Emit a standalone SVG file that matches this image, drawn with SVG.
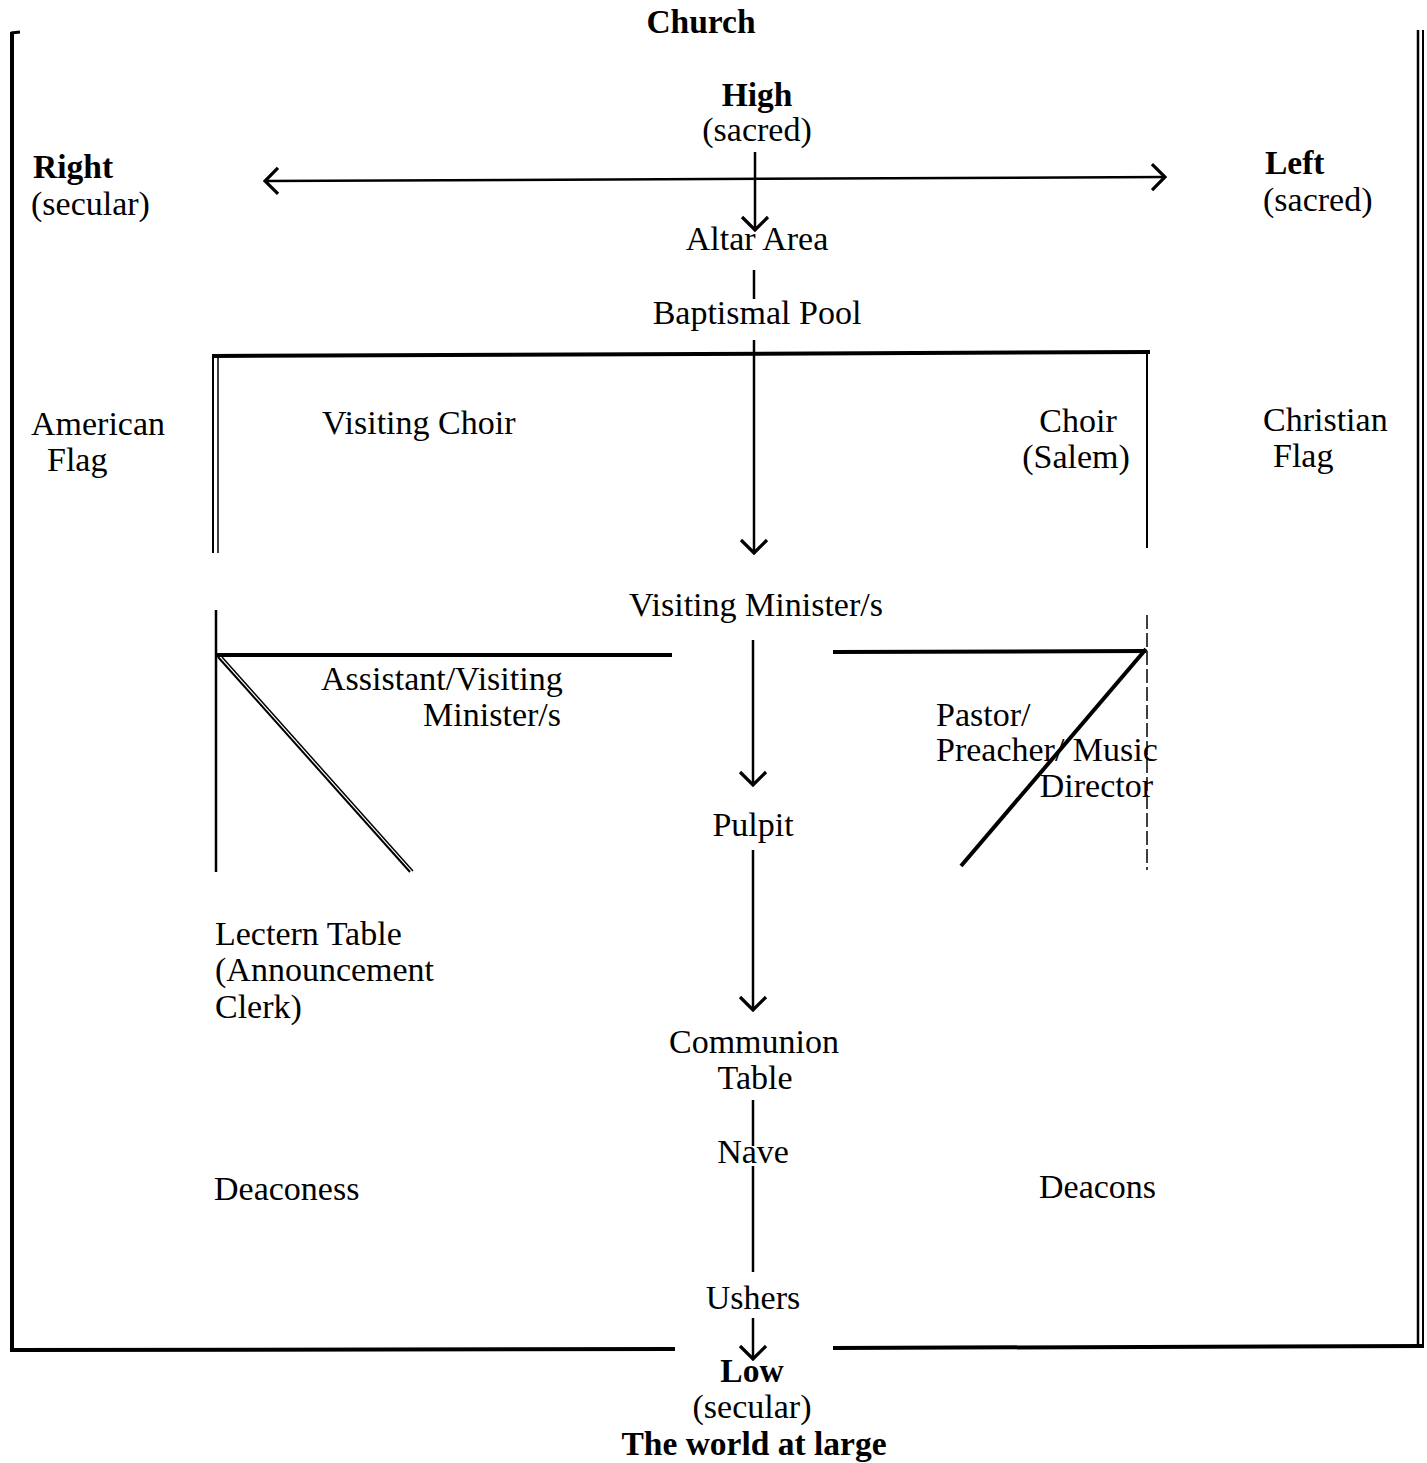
<svg xmlns="http://www.w3.org/2000/svg" width="1427" height="1463" viewBox="0 0 1427 1463">
<style>
text{font-family:"Liberation Serif","Times New Roman",serif;font-size:34px;fill:#000}
.b{font-weight:bold;font-size:33.5px}
.m{text-anchor:middle}
.e{text-anchor:end}
.ln{stroke:#000;fill:none;stroke-linecap:butt}
.fr{stroke-width:4}
.cn{stroke-width:2.5}
</style>
<defs>
<marker id="ah" viewBox="0 0 20 30" refX="18" refY="15" markerWidth="20" markerHeight="30" markerUnits="userSpaceOnUse" orient="auto-start-reverse">
<path d="M5,2 L18,15 L5,28" fill="none" stroke="#000" stroke-width="3.2" stroke-linejoin="miter"/>
</marker>
</defs>
<rect width="1427" height="1463" fill="#fff"/>
<g id="frame" class="ln">
<line class="fr" x1="12" y1="32" x2="12" y2="1351"/>
<line x1="11" y1="33" x2="20" y2="32" stroke-width="3"/>
<line class="fr" x1="10" y1="1350" x2="675" y2="1349"/>
<line class="fr" x1="833" y1="1348" x2="1424" y2="1346"/>
<line x1="1418" y1="30" x2="1418" y2="1347" stroke-width="2.5"/>
<line x1="1423" y1="30" x2="1423" y2="1347" stroke-width="2"/>
<line x1="212" y1="356" x2="1150" y2="352" stroke-width="4"/>
<line x1="213" y1="356" x2="213" y2="553" stroke-width="2"/>
<line x1="218" y1="356" x2="218" y2="553" stroke-width="1.5"/>
<line x1="1147" y1="352" x2="1147" y2="548" stroke-width="2"/>
<line x1="216" y1="610" x2="216" y2="872" stroke-width="2.5"/>
<line x1="216" y1="655" x2="672" y2="655" stroke-width="4"/>
<line x1="218" y1="657" x2="410" y2="872" stroke-width="2"/>
<line x1="222" y1="657" x2="413" y2="871" stroke-width="1.5"/>
<line x1="833" y1="652" x2="1146" y2="651" stroke-width="4"/>
<line x1="1147" y1="615" x2="1147" y2="870" stroke-width="1.5" stroke-dasharray="14 4"/>
<line x1="1146" y1="649" x2="961" y2="866" stroke-width="4"/>
</g>
<g id="connectors" class="ln cn">
<line x1="265" y1="181" x2="1165" y2="177" marker-start="url(#ah)" marker-end="url(#ah)"/>
<line x1="755" y1="152" x2="755" y2="230" marker-end="url(#ah)"/>
<line x1="754" y1="270" x2="754" y2="299"/>
<line x1="754" y1="340" x2="754" y2="553" marker-end="url(#ah)"/>
<line x1="753" y1="640" x2="753" y2="785" marker-end="url(#ah)"/>
<line x1="753" y1="850" x2="753" y2="1010" marker-end="url(#ah)"/>
<line x1="753" y1="1100" x2="753" y2="1146"/>
<line x1="753" y1="1166" x2="753" y2="1272"/>
<line x1="753" y1="1318" x2="753" y2="1359" marker-end="url(#ah)"/>
</g>
<g id="church"><text class="b m" x="701" y="33">Church</text></g>
<g id="high"><text class="b m" x="757" y="106">High</text><text class="m" x="757" y="141">(sacred)</text></g>
<g id="right"><text class="b" x="33" y="178">Right</text><text x="31" y="215">(secular)</text></g>
<g id="left"><text class="b" x="1265" y="174">Left</text><text x="1263" y="211">(sacred)</text></g>
<g id="altar"><text class="m" x="757" y="250">Altar Area</text></g>
<g id="pool"><text class="m" x="757" y="324">Baptismal Pool</text></g>
<g id="american-flag"><text x="31" y="435">American</text><text x="47" y="471">Flag</text></g>
<g id="visiting-choir"><text x="322" y="434">Visiting Choir</text></g>
<g id="choir"><text class="m" x="1078" y="432">Choir</text><text class="m" x="1076" y="468">(Salem)</text></g>
<g id="christian-flag"><text x="1263" y="431">Christian</text><text x="1273" y="467">Flag</text></g>
<g id="visiting-minister"><text class="m" x="756" y="616">Visiting Minister/s</text></g>
<g id="assistant"><text x="321" y="690">Assistant/Visiting</text><text class="e" x="561" y="726">Minister/s</text></g>
<g id="pastor"><text x="936" y="726">Pastor/</text><text x="936" y="761">Preacher/ Music</text><text class="e" x="1153" y="797">Director</text></g>
<g id="pulpit"><text class="m" x="753" y="836">Pulpit</text></g>
<g id="lectern"><text x="215" y="945">Lectern Table</text><text x="215" y="981">(Announcement</text><text x="215" y="1018">Clerk)</text></g>
<g id="communion"><text class="m" x="754" y="1053">Communion</text><text class="m" x="755" y="1089">Table</text></g>
<g id="nave"><text class="m" x="753" y="1163">Nave</text></g>
<g id="deaconess"><text x="214" y="1200">Deaconess</text></g>
<g id="deacons"><text x="1039" y="1198">Deacons</text></g>
<g id="ushers"><text class="m" x="753" y="1309">Ushers</text></g>
<g id="low"><text class="b m" x="752" y="1382">Low</text><text class="m" x="752" y="1418">(secular)</text></g>
<g id="world"><text class="b m" x="754" y="1455">The world at large</text></g>
</svg>
